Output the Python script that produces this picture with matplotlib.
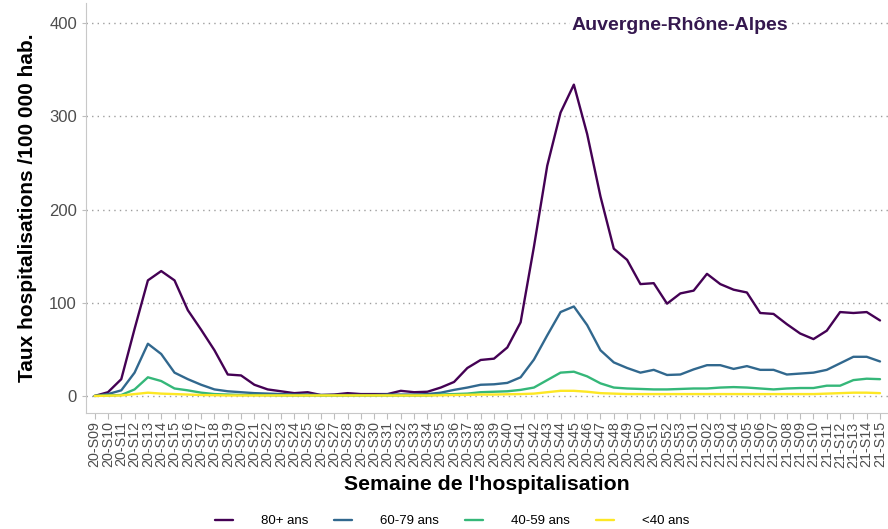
import matplotlib
matplotlib.use('Agg')
import matplotlib.pyplot as plt

#region data
weeks = ['20-S%02d' % w for w in range(9, 54)] + ['21-S%02d' % w for w in range(1, 16)]

age_80 = [0, 4, 18, 72, 124, 134, 124, 92, 71, 49,
          23, 22, 12, 7, 5, 3, 4, 1, 1.5, 3,
          2, 2, 2, 5.5, 4, 4.5, 9, 15, 30, 38.6,
          40, 52, 79, 160, 247, 304, 334, 281, 214, 158,
          146, 120, 121, 99, 110,
          113, 131, 120, 114, 111, 89, 88, 77, 67, 61,
          70, 90, 89, 90, 81]
age_60 = [0, 2, 6, 25, 56, 45, 25, 18, 12, 7,
          5, 4, 3, 2.5, 2, 1.5, 1.5, 1, 1, 1,
          1, 1, 1.5, 1.5, 1.5, 2, 3.5, 6.5, 9, 12,
          12.5, 14, 20, 39, 65, 90, 96, 76, 49, 36,
          30, 25, 28, 22.5, 23,
          28.5, 33, 33, 29, 32, 28, 28, 23, 24, 25,
          28, 35, 42, 42, 37]
age_40 = [0, 0.5, 1, 7, 20, 16, 8, 6, 3.5, 2,
          1.5, 1, 1, 0.8, 0.6, 0.5, 0.5, 0.5, 0.5, 0.5,
          0.5, 0.5, 0.5, 0.5, 0.5, 0.5, 1.5, 2, 2.5, 4,
          4.5, 5, 6.5, 9, 17, 25, 26, 21, 13.5, 9,
          8, 7.5, 7, 7, 7.5,
          8, 8, 9, 9.5, 9, 8, 7, 8, 8.5, 8.5,
          11, 11, 17, 18.5, 18]
age_0 = [0, 0.3, 0.5, 2, 3.5, 2.5, 2, 1.5, 1, 0.8,
         0.5, 0.5, 0.5, 0.5, 0.5, 0.5, 0.5, 0.5, 0.5, 0.5,
         0.5, 0.5, 0.5, 0.5, 0.5, 0.5, 0.7, 1, 1.2, 1.5,
         1.5, 1.8, 2, 2.5, 4, 5.5, 5.5, 4.5, 3, 2.5,
         2, 2, 2, 2, 2,
         2, 2, 2, 2, 2, 2, 2, 2, 2, 2,
         2.5, 3, 3.5, 3.5, 3]

series = [('80+ ans', age_80, '#440154'),
          ('60-79 ans', age_60, '#31688E'),
          ('40-59 ans', age_40, '#35B779'),
          ('<40 ans', age_0, '#FDE725')]
#endregion

plt.rcParams['font.family'] = ['Liberation Sans', 'DejaVu Sans']

fig = plt.figure(figsize=(8.88, 5.29), dpi=100)
ax = fig.add_axes([86 / 888, 116 / 529, 802 / 888, 410 / 529])

x = list(range(len(weeks)))
for name, vals, col in series:
  ax.plot(x, vals, color=col, lw=1.7, label=name, solid_capstyle='round')

ax.set_xlim(-0.65, len(weeks) - 0.4)
ax.set_ylim(-18.3, 421.6)
ax.set_yticks([0, 100, 200, 300, 400])
ax.set_xticks(x)
ax.set_xticklabels(weeks, rotation=90, fontsize=10.3, color='#4D4D4D')
ax.tick_params(axis='y', labelsize=12, colors='#4D4D4D', length=3, color='#BDBDBD')
ax.tick_params(axis='x', length=4, color='#BDBDBD', pad=2)
ax.yaxis.grid(True, linestyle=(0, (1, 3)), color='#9E9E9E', lw=1)
ax.set_axisbelow(True)
for side in ('top', 'right'):
  ax.spines[side].set_visible(False)
for side in ('left', 'bottom'):
  ax.spines[side].set_color('#C8C8C8')

ax.set_ylabel('Taux hospitalisations /100 000 hab.', fontsize=15, fontweight='bold', labelpad=9)
ax.set_xlabel("Semaine de l'hospitalisation", fontsize=15.3, fontweight='bold', labelpad=5)

ax.text(0.74, 0.945, 'Auvergne-Rhône-Alpes', transform=ax.transAxes, ha='center', va='center',
        fontsize=14, fontweight='bold', color='#35184F',
        bbox=dict(facecolor='white', edgecolor='none', pad=1))

fig.legend(loc='center', bbox_to_anchor=(452 / 888, 1 - 521 / 529), ncol=4, frameon=False,
           fontsize=9.5, handlelength=1.36, handletextpad=2.1, columnspacing=2.0)

fig.savefig('out.png', dpi=100)
